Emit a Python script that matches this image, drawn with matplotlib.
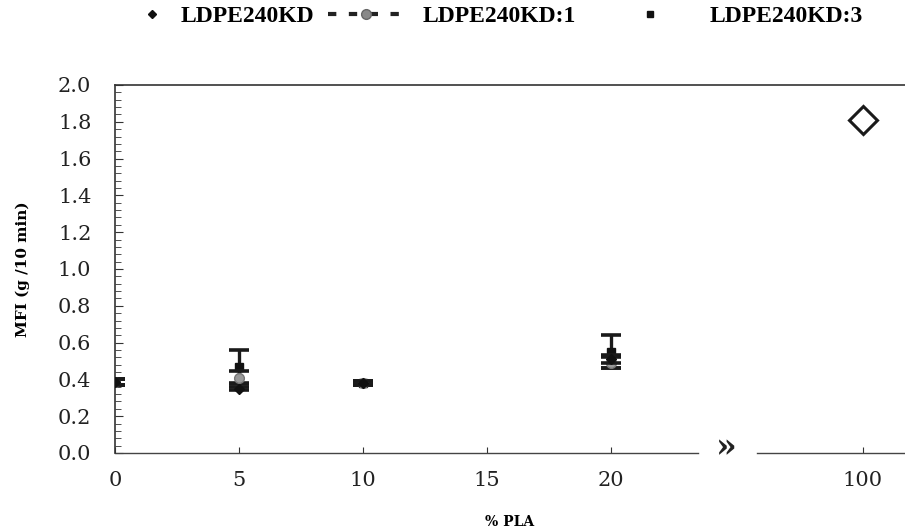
import matplotlib
matplotlib.use("Agg")
import matplotlib.pyplot as plt
from matplotlib.lines import Line2D
from matplotlib.ticker import MultipleLocator
import numpy as np

plt.rcParams['font.family'] = ['DejaVu Serif', 'Liberation Serif']

# ---- data ----
pla_pct = [0, 5, 10, 20]
kd_mean = [0.385, 0.35, 0.38, 0.51]
kd_err = [0.015, 0.01, 0.012, 0.02]
kd1_mean = [0.385, 0.41, 0.38, 0.49]
kd1_err = [0.015, 0.035, 0.012, 0.03]
kd3_mean = [0.385, 0.47, 0.38, 0.55]
kd3_err = [0.015, 0.09, 0.012, 0.09]
pla_pure_x = 100
pla_pure_mfi = 1.81

tick_vals = [0, 5, 10, 15, 20, 100]
tick_labels = ["0", "5", "10", "15", "20", "100"]
series_names = ["LDPE240KD", "LDPE240KD:1", "LDPE240KD:3"]

# broken axis: position of 100 on display axis
BREAK_POS = 30.15
def xpos(v):
    return v if v <= 20 else BREAK_POS

fig = plt.figure(figsize=(9.05, 5.31), dpi=100)
ax = fig.add_axes([115/905, 1-453/531, 1-115/905, (453-85)/531])

eb_kw = dict(linestyle='none', ecolor='#1a1a1a', elinewidth=2.4, capsize=7, capthick=2.6)
ax.errorbar(pla_pct, kd3_mean, yerr=kd3_err, marker='s', ms=6, color='#111111', zorder=3, **eb_kw)
ax.errorbar(pla_pct, kd1_mean, yerr=kd1_err, marker='o', ms=7, color='#999999', mec='#777777', zorder=4, **eb_kw)
ax.errorbar(pla_pct, kd_mean, yerr=kd_err, marker='D', ms=5, color='#111111', zorder=5, **eb_kw)
ax.plot([xpos(pla_pure_x)], [pla_pure_mfi], marker='D', ms=14, mfc='white', mec='#1a1a1a', mew=2.2, linestyle='none')

ax.set_xlim(0, 31.85)
ax.set_ylim(0, 2.0)

# spines
ax.spines['right'].set_visible(False)
ax.spines['bottom'].set_visible(False)
ax.spines['left'].set_color('#333333')
ax.spines['top'].set_color('#333333')
ax.spines['left'].set_linewidth(1.2)
ax.spines['top'].set_linewidth(1.2)

# broken x axis line
ax.plot([0, 23.5], [0, 0], color='#444444', lw=1.0, clip_on=False, zorder=2)
ax.plot([25.9, 31.85], [0, 0], color='#444444', lw=1.0, clip_on=False, zorder=2)
ax.text(24.65, 0.03, "\u00bb", ha='center', va='center', fontsize=24, fontweight='bold', color='#222222')

ax.set_xticks([xpos(v) for v in tick_vals])
ax.set_xticklabels(tick_labels)
ax.yaxis.set_major_locator(MultipleLocator(0.2))
ax.yaxis.set_minor_locator(MultipleLocator(0.04))
ax.set_yticklabels([f"{v:.1f}" for v in ax.get_yticks()])
ax.tick_params(axis='both', which='major', direction='in', labelsize=15, colors='#333333', labelcolor='#222222')
ax.tick_params(axis='y', which='major', length=6, pad=17)
ax.tick_params(axis='y', which='minor', direction='in', length=4, color='#333333')
ax.tick_params(axis='x', which='major', length=4, pad=13)

ax.set_ylabel("MFI (g /10 min)", fontsize=11, fontweight='bold')
ax.yaxis.set_label_coords(-85/790, 0.5)
ax.set_xlabel("% PLA", fontsize=10, fontweight='bold', labelpad=18)

# legend: three entries placed like the reference
handles = [
    Line2D([], [], linestyle='none', marker='D', ms=4, color='#111111'),
    Line2D([], [], linestyle=(0, (2, 3)), lw=3, marker='o', ms=7, color='#222222', mfc='#888888', mec='#666666'),
    Line2D([], [], linestyle='none', marker='s', ms=5, color='#111111'),
]
leg_prop = {'family': 'Liberation Serif', 'weight': 'bold', 'size': 17}
fs_px = 17 * 100 / 72
leg_specs = [  # (left px, handle px, pad px)
    (140, 24, 17),
    (328, 75, 20),
    (612, 75, 23),
]
for h, name, (lx, hl, pad) in zip(handles, series_names, leg_specs):
    lg = fig.legend([h], [name], loc='center left', bbox_to_anchor=(lx/905, 1-16/531),
                    frameon=False, handlelength=hl/fs_px, handletextpad=pad/fs_px,
                    borderpad=0, borderaxespad=0, prop=leg_prop)

fig.savefig("out.png", dpi=100)
